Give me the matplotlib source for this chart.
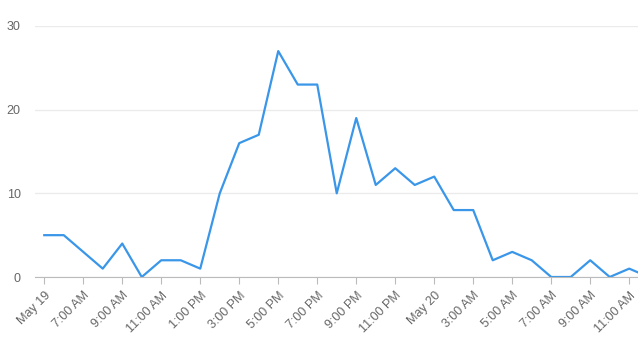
import matplotlib
matplotlib.use("Agg")
import matplotlib.pyplot as plt
import matplotlib.dates as mdates
import pandas as pd

# hourly counts, May 19 05:00 .. May 20 12:00
times = pd.date_range("2024-05-19 05:00", "2024-05-20 12:00", freq="h")
counts = [5, 5, 3, 1, 4, 0, 2, 2, 1, 10, 16, 17, 27, 23, 23, 10,
          19, 11, 13, 11, 12, 8, 8, 2, 3, 2, 0, 0, 2, 0, 1, 0]

tick_labels = ["May 19", "7:00 AM", "9:00 AM", "11:00 AM", "1:00 PM",
               "3:00 PM", "5:00 PM", "7:00 PM", "9:00 PM", "11:00 PM",
               "May 20", "3:00 AM", "5:00 AM", "7:00 AM", "9:00 AM",
               "11:00 AM"]
y_ticks = [0, 10, 20, 30]

plt.rcParams["font.family"] = ["Liberation Sans", "DejaVu Sans"]

fig = plt.figure(figsize=(6.38, 3.37), dpi=100)
ax = fig.add_axes([34.7 / 638, 60 / 337, 1 - 34.7 / 638, 251 / 337])

ax.plot(times, counts, color="#3a96e8", lw=1.6, clip_on=True)

ticks = times[::2][:len(tick_labels)]
ax.set_xticks(ticks)
ax.set_xticklabels(tick_labels, rotation=45, ha="right",
                   rotation_mode="anchor", color="#666666", fontsize=9)
ax.set_yticks(y_ticks)
ax.set_yticklabels([str(v) for v in y_ticks], color="#666666", fontsize=9)

hour = pd.Timedelta(hours=1)
ax.set_xlim(mdates.date2num(times[0] - 0.49 * hour),
            mdates.date2num(times[0] + 30.45 * hour))
ax.set_ylim(0, 30)

for s in ("top", "right", "left"):
    ax.spines[s].set_visible(False)
ax.spines["bottom"].set_color("#bbbbbb")
ax.tick_params(axis="x", length=5, color="#bbbbbb", pad=4)
ax.tick_params(axis="y", length=0, pad=10)
ax.grid(axis="y", color="#ebebeb", lw=1)
ax.set_axisbelow(True)

fig.savefig("out.png", dpi=100)
